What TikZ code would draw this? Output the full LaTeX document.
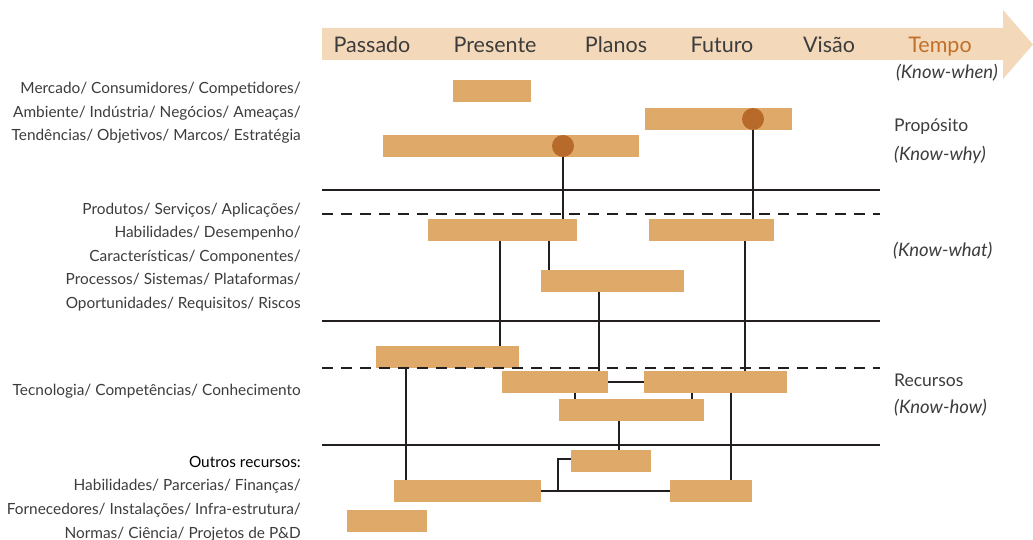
\documentclass[tikz,border=0pt]{standalone}
\usepackage{fontspec}
\setmainfont{Lato}
\definecolor{barc}{HTML}{DFAA69}
\definecolor{dotc}{HTML}{B86A2A}
\definecolor{arrowc}{HTML}{F3D9BA}
\definecolor{tempoc}{HTML}{C0702B}
\definecolor{linec}{HTML}{231F20}
\definecolor{txtc}{HTML}{3C3C3C}
\tikzset{
  bar/.style={fill=barc, draw=none, inner sep=0pt, outer sep=0pt, minimum height=22pt},
  dot/.style={circle, fill=dotc, draw=none, inner sep=0pt, outer sep=0pt, minimum size=22pt},
  conn/.style={draw=linec, line width=1.9pt},
  hline/.style={draw=linec, line width=1.9pt},
  dline/.style={hline, dash pattern=on 11pt off 8pt},
  hdr/.style={font=\fontsize{21.5}{24}\selectfont, text=txtc, anchor=base, inner sep=0pt},
  lefttxt/.style={font=\fontsize{15.4}{23.6}\selectfont, text=txtc, align=right, anchor=east, inner sep=0pt},
  righttxt/.style={font=\fontsize{17.5}{20}\selectfont, text=txtc, anchor=west, inner sep=0pt},
  rightit/.style={righttxt, font=\fontsize{18.5}{20}\selectfont\itshape}
}
\begin{document}
\begin{tikzpicture}[x=1pt,y=-1pt]
\useasboundingbox (0,0) rectangle (1033,540);
% time arrow
\fill[arrowc] (322,28) -- (1003,28) -- (1003,10) -- (1033,44.5) -- (1003,79) -- (1003,60) -- (322,60) -- cycle;
\node[hdr] (hPassado) at (372,53) {Passado};
\node[hdr] (hPresente) at (495,53) {Presente};
\node[hdr] (hPlanos) at (616,53) {Planos};
\node[hdr] (hFuturo) at (722,53) {Futuro};
\node[hdr] (hVisao) at (829,53) {Visão};
\node[hdr, text=tempoc] (hTempo) at (940,53) {Tempo};
\node[rightit, anchor=east] (kwhen) at (998,73) {(Know-when)};
% left texts
\node[lefttxt] (L1) at (301,113) {Mercado/ Consumidores/ Competidores/\\Ambiente/ Indústria/ Negócios/ Ameaças/\\Tendências/ Objetivos/ Marcos/ Estratégia};
\node[lefttxt] (L2) at (301,257) {Produtos/ Serviços/ Aplicações/\\Habilidades/ Desempenho/\\Características/ Componentes/\\Processos/ Sistemas/ Plataformas/\\Oportunidades/ Requisitos/ Riscos};
\node[lefttxt] (L3) at (301,391) {Tecnologia/ Competências/ Conhecimento};
\node[lefttxt] (L4) at (301,498.5) {\textcolor{black}{Outros recursos:}\\Habilidades/ Parcerias/ Finanças/\\Fornecedores/ Instalações/ Infra-estrutura/\\Normas/ Ciência/ Projetos de P\&D};
% right texts
\node[righttxt] (rProp) at (894,127) {Propósito};
\node[rightit] (rWhy) at (894,155) {(Know-why)};
\node[rightit] (rWhat) at (893,251) {(Know-what)};
\node[righttxt] (rRec) at (894,380) {Recursos};
\node[rightit] (rHow) at (894,408) {(Know-how)};
% bars
\node[bar, minimum width=78pt] (A) at (492,91) {};
\node[bar, minimum width=147pt] (B) at (718.5,119) {};
\node[bar, minimum width=256pt] (C) at (511,146) {};
\node[bar, minimum width=149pt] (D) at (502.5,230) {};
\node[bar, minimum width=125pt] (E) at (711.5,230) {};
\node[bar, minimum width=143pt] (F) at (612.5,281) {};
\node[bar, minimum width=143pt] (G) at (447.5,357) {};
\node[bar, minimum width=106pt] (H) at (555,382) {};
\node[bar, minimum width=143pt] (I) at (715.5,382) {};
\node[bar, minimum width=145pt] (J) at (631.5,410) {};
\node[bar, minimum width=80pt] (K) at (611,461) {};
\node[bar, minimum width=147pt] (L) at (467.5,491) {};
\node[bar, minimum width=82pt] (M) at (711,491) {};
\node[bar, minimum width=80pt] (N) at (387,521) {};
% layer lines
\draw[hline] (322,190) -- (880,190);
\draw[dline] (322,214) -- (880,214);
\draw[hline] (322,321) -- (880,321);
\draw[dline] (322,368) -- (880,368);
\draw[hline] (322,445) -- (880,445);
% milestone dots
\node[dot] (c1) at (563,146) {};
\node[dot] (c2) at (753,119) {};
% x positions of connectors
\coordinate (x500) at (500,0);
\coordinate (x549) at (549,0);
\coordinate (x599) at (599,0);
\coordinate (x745) at (745,0);
\coordinate (x575) at (575,0);
\coordinate (x692) at (692,0);
\coordinate (x619) at (619,0);
\coordinate (x406) at (406,0);
\coordinate (x731) at (731,0);
\coordinate (jn) at (558,491);
% connectors
\draw[conn] (c1.south) -- (c1.south |- D.north);
\draw[conn] (c2.south) -- (c2.south |- E.north);
\draw[conn] (D.south -| x500) -- (G.north -| x500);
\draw[conn] (D.south -| x549) -- (F.north -| x549);
\draw[conn] (F.south -| x599) -- (H.north -| x599);
\draw[conn] (E.south -| x745) -- (I.north -| x745);
\draw[conn] (H.east) -- (I.west);
\draw[conn] (H.south -| x575) -- (J.north -| x575);
\draw[conn] (I.south -| x692) -- (J.north -| x692);
\draw[conn] (J.south -| x619) -- (K.north -| x619);
\draw[conn] (G.south -| x406) -- (L.north -| x406);
\draw[conn] (I.south -| x731) -- (M.north -| x731);
\draw[conn] (L.east) -- (M.west);
\draw[conn] ([yshift=2pt]K.west) -| (jn);
\end{tikzpicture}
\end{document}
